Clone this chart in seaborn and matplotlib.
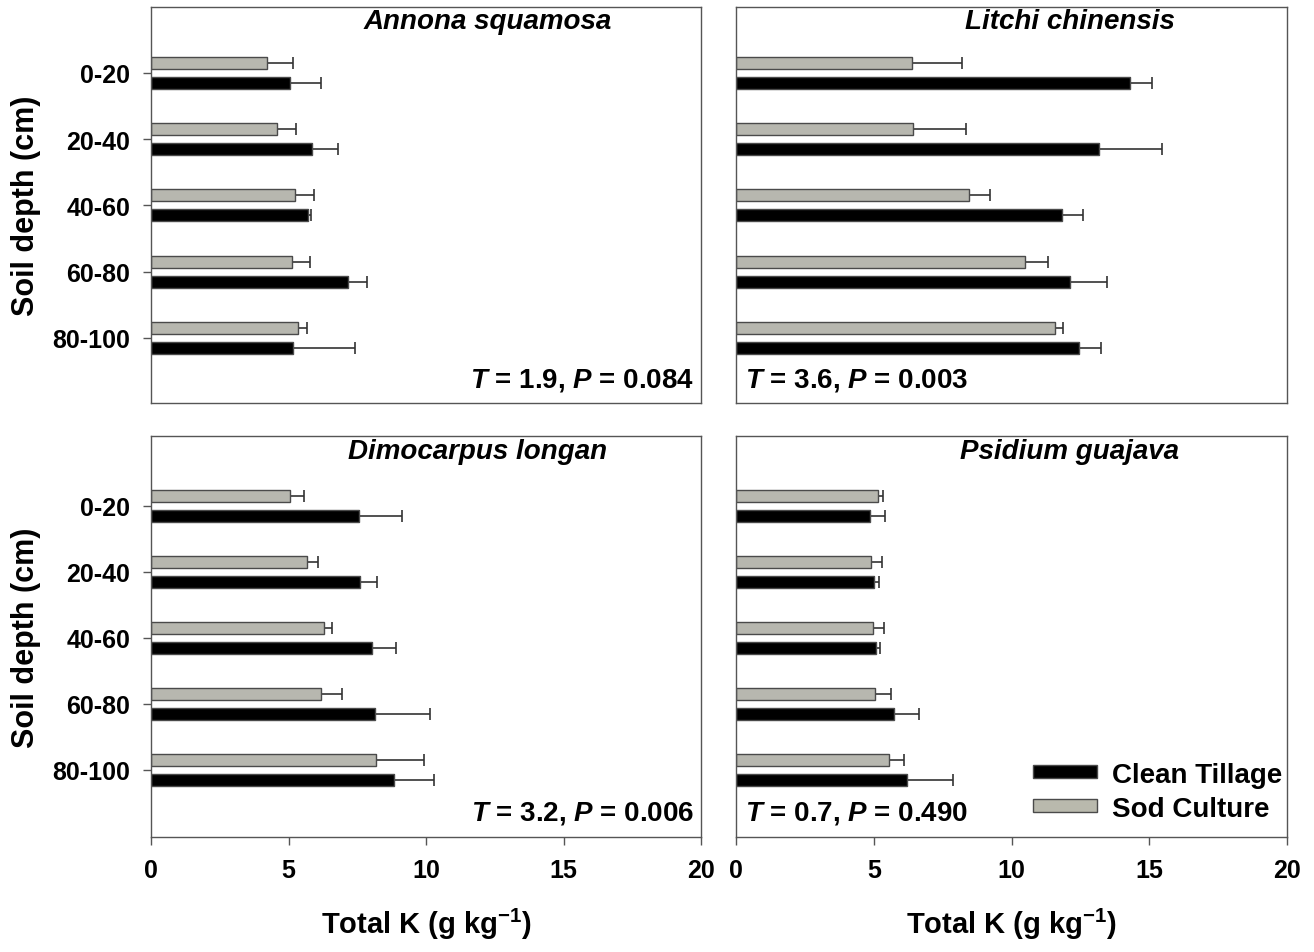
import numpy as np
import pandas as pd
import matplotlib
matplotlib.use("Agg")
import matplotlib.pyplot as plt
from matplotlib.patches import Patch
import seaborn as sns

# ---------------- data ----------------
depths = ["0-20", "20-40", "40-60", "60-80", "80-100"]
species = ["Annona squamosa", "Litchi chinensis", "Dimocarpus longan", "Psidium guajava"]
treatments = ["Sod Culture", "Clean Tillage"]

annona_clean = [5.05, 5.87, 5.72, 7.18, 5.15]
annona_clean_err = [1.13, 0.93, 0.09, 0.69, 2.26]
annona_sod = [4.20, 4.57, 5.25, 5.12, 5.36]
annona_sod_err = [0.96, 0.71, 0.69, 0.67, 0.31]

litchi_clean = [14.30, 13.17, 11.85, 12.12, 12.44]
litchi_clean_err = [0.80, 2.28, 0.76, 1.36, 0.80]
litchi_sod = [6.38, 6.44, 8.47, 10.48, 11.59]
litchi_sod_err = [1.84, 1.91, 0.74, 0.85, 0.29]

longan_clean = [7.58, 7.60, 8.05, 8.15, 8.82]
longan_clean_err = [1.54, 0.61, 0.87, 2.01, 1.47]
longan_sod = [5.07, 5.66, 6.28, 6.19, 8.18]
longan_sod_err = [0.51, 0.40, 0.30, 0.76, 1.75]

guava_clean = [4.88, 5.00, 5.07, 5.75, 6.21]
guava_clean_err = [0.54, 0.20, 0.17, 0.88, 1.67]
guava_sod = [5.17, 4.89, 4.97, 5.06, 5.56]
guava_sod_err = [0.18, 0.42, 0.39, 0.55, 0.55]

t_values = ["1.9", "3.6", "3.2", "0.7"]
p_values = ["0.084", "0.003", "0.006", "0.490"]

x_ticks = [0, 5, 10, 15, 20]

panel_data = [
    (annona_clean, annona_clean_err, annona_sod, annona_sod_err),
    (litchi_clean, litchi_clean_err, litchi_sod, litchi_sod_err),
    (longan_clean, longan_clean_err, longan_sod, longan_sod_err),
    (guava_clean, guava_clean_err, guava_sod, guava_sod_err),
]

# ---------------- style ----------------
sns.set_theme(style="white")
plt.rcParams["font.family"] = ["Liberation Sans", "DejaVu Sans"]
plt.rcParams["font.weight"] = "bold"
plt.rcParams["text.color"] = "black"
plt.rcParams["axes.labelcolor"] = "black"
plt.rcParams["xtick.color"] = "black"
plt.rcParams["ytick.color"] = "black"
plt.rcParams["mathtext.fontset"] = "custom"
plt.rcParams["mathtext.rm"] = "Liberation Sans:bold"
plt.rcParams["mathtext.bf"] = "Liberation Sans:bold"
plt.rcParams["mathtext.it"] = "Liberation Sans:bold:italic"

SOD_COLOR = "#b9b9ad"
CLEAN_COLOR = "#000000"
palette = {"Sod Culture": SOD_COLOR, "Clean Tillage": CLEAN_COLOR}
SPINE = "#555555"

W, H = 1314, 953
fig = plt.figure(figsize=(W / 100, H / 100), dpi=100)

# axes rectangles in pixels: (left, top, right, bottom)
rects = [
    (151, 8, 701, 404),
    (736, 8, 1287, 404),
    (151, 437, 701, 838),
    (736, 437, 1287, 838),
]
ylims = [(4.98, -0.99), (4.98, -0.99), (5.02, -1.06), (5.02, -1.06)]
title_x = [0.612, 0.606, 0.594, 0.606]

axes = []
for i, (l, t, r, b) in enumerate(rects):
    ax = fig.add_axes([l / W, 1 - b / H, (r - l) / W, (b - t) / H])
    axes.append(ax)

    clean, clean_err, sod, sod_err = panel_data[i]
    df = pd.DataFrame({
        "depth": depths * 2,
        "treatment": ["Sod Culture"] * len(depths) + ["Clean Tillage"] * len(depths),
        "value": sod + clean,
    })
    sns.barplot(data=df, x="value", y="depth", hue="treatment",
                hue_order=treatments, order=depths, palette=palette,
                orient="h", width=0.6, gap=0.4, errorbar=None,
                edgecolor="#4a4a4a", linewidth=1.0, legend=False, ax=ax)

    # one-sided error bars placed at the bars drawn by seaborn
    errs = {"Sod Culture": sod_err, "Clean Tillage": clean_err}
    for cont, tr in zip(ax.containers, treatments):
        for patch, e in zip(cont.patches, errs[tr]):
            yc = patch.get_y() + patch.get_height() / 2
            xv = patch.get_x() + patch.get_width()
            ax.errorbar(xv, yc, xerr=[[0], [e]], fmt="none", ecolor="#333333",
                        elinewidth=1.2, capsize=4.3, capthick=1.2, zorder=0.5)

    ax.set_xlim(0, 20)
    ax.set_ylim(*ylims[i])
    ax.set_xlabel("")
    ax.set_ylabel("")

    for s in ax.spines.values():
        s.set_visible(True)
        s.set_color(SPINE)
        s.set_linewidth(1.0)

    # title
    ax.text(title_x[i], 0.965 if i < 2 else 0.963, species[i],
            transform=ax.transAxes, ha="center", va="center", fontsize=20,
            fontweight="bold", fontstyle="italic", color="black")

    # statistics
    stat = r"$\mathit{T}$ = " + t_values[i] + r", $\mathit{P}$ = " + p_values[i]
    if i % 2 == 0:
        ax.text(0.988, 0.06, stat, transform=ax.transAxes, ha="right", va="center",
                fontsize=20, fontweight="bold", color="black")
    else:
        ax.text(0.016, 0.06, stat, transform=ax.transAxes, ha="left", va="center",
                fontsize=20, fontweight="bold", color="black")

    # ticks
    ax.set_xticks(x_ticks)
    if i >= 2:
        ax.tick_params(axis="x", bottom=True, length=6, width=1, color=SPINE,
                       labelcolor="black", direction="out", pad=9, labelsize=18)
        for lab in ax.get_xticklabels():
            lab.set_fontweight("bold")
        ax.text(0.5, -0.215, r"Total K (g kg$^{\mathrm{-1}}$)", transform=ax.transAxes,
                ha="center", va="center", fontsize=21, fontweight="bold", color="black")
    else:
        ax.tick_params(axis="x", bottom=False, labelbottom=False)

    if i % 2 == 0:
        ax.tick_params(axis="y", left=True, length=6, width=1, color=SPINE,
                       labelcolor="black", direction="out", pad=9, labelsize=18)
        for lab in ax.get_yticklabels():
            lab.set_fontweight("bold")
        ax.text(-0.228, 0.5, "Soil depth (cm)", transform=ax.transAxes,
                rotation=90, ha="center", va="center", fontsize=22, fontweight="bold",
                color="black")
    else:
        ax.tick_params(axis="y", left=False, labelleft=False)

# legend in lower-right panel
axl = axes[3]
handles = [Patch(facecolor=CLEAN_COLOR, edgecolor="#4a4a4a", linewidth=1.0),
           Patch(facecolor=SOD_COLOR, edgecolor="#4a4a4a", linewidth=1.0)]
leg = axl.legend(handles, ["Clean Tillage", "Sod Culture"], loc="center left",
                 bbox_to_anchor=(0.539, 0.113), frameon=False, fontsize=20,
                 handlelength=2.3, handleheight=0.35, handletextpad=0.55,
                 labelspacing=0.28, borderpad=0, borderaxespad=0)
for t in leg.get_texts():
    t.set_fontweight("bold")
    t.set_color("black")

fig.savefig("out.png", dpi=100)
